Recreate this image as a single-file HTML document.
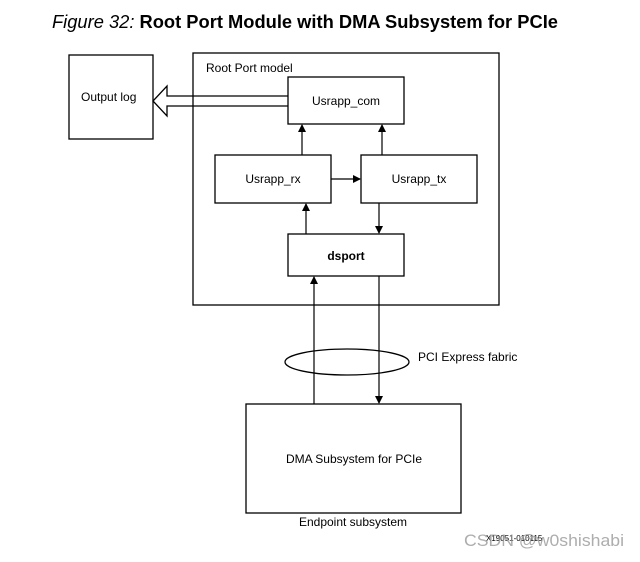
<!DOCTYPE html>
<html><head><meta charset="utf-8"><style>
body{margin:0;background:#fff;width:640px;height:557px;overflow:hidden}
</style></head><body>
<svg width="640" height="557" xmlns="http://www.w3.org/2000/svg" font-family="Liberation Sans, sans-serif" font-size="12">
<defs><marker id="a" markerWidth="8" markerHeight="8" refX="7" refY="4" orient="auto" markerUnits="userSpaceOnUse"><path d="M0,0 L8,4 L0,8 z" fill="#000"/></marker></defs>
<text x="52" y="28" font-size="18" textLength="506" lengthAdjust="spacingAndGlyphs"><tspan font-style="italic">Figure 32:</tspan><tspan font-weight="bold"> Root Port Module with DMA Subsystem for PCIe</tspan></text>
<g fill="none" stroke="#000" stroke-width="1.3">
<rect x="69" y="55" width="84" height="84"/>
<rect x="193" y="53" width="306" height="252"/>
<rect x="288" y="77" width="116" height="47"/>
<rect x="215" y="155" width="116" height="48"/>
<rect x="361" y="155" width="116" height="48"/>
<rect x="288" y="234" width="116" height="42"/>
<rect x="246" y="404" width="215" height="109"/>
<path d="M288,96 H167 V86 L153,101 L167,116 V106 H288"/>
<ellipse cx="347" cy="362" rx="62" ry="13"/>
</g>
<g stroke="#000" stroke-width="1.2" marker-end="url(#a)">
<line x1="302" y1="155" x2="302" y2="125"/>
<line x1="382" y1="155" x2="382" y2="125"/>
<line x1="331" y1="179" x2="360" y2="179"/>
<line x1="306" y1="234" x2="306" y2="204"/>
<line x1="379" y1="203" x2="379" y2="233"/>
<line x1="314" y1="404" x2="314" y2="277"/>
<line x1="379" y1="276" x2="379" y2="403"/>
</g>
<text x="81" y="101">Output log</text>
<text x="206" y="72">Root Port model</text>
<text x="346" y="105" text-anchor="middle">Usrapp_com</text>
<text x="273" y="183" text-anchor="middle">Usrapp_rx</text>
<text x="419" y="183" text-anchor="middle">Usrapp_tx</text>
<text x="346" y="260" text-anchor="middle" font-weight="bold">dsport</text>
<text x="418" y="361">PCI Express fabric</text>
<text x="354" y="463" text-anchor="middle">DMA Subsystem for PCIe</text>
<text x="353" y="526" text-anchor="middle">Endpoint subsystem</text>
<text x="486" y="541" font-size="8">X19051-010115</text>
<text x="464" y="546" font-size="17" fill="#999" opacity="0.8" textLength="160" lengthAdjust="spacingAndGlyphs">CSDN @w0shishabi</text>
</svg>
</body></html>
